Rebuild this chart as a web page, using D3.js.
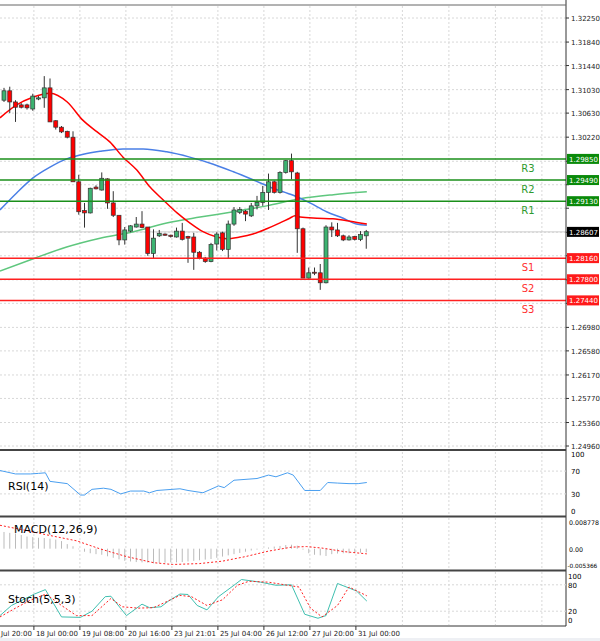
<!DOCTYPE html>
<html><head><meta charset="utf-8">
<script src="https://cdn.jsdelivr.net/npm/d3@7"></script>
<style>body{margin:0;background:#fff}svg{font-family:"DejaVu Sans",sans-serif}</style>
</head><body><svg id="c" width="600" height="641"></svg>
<script>
// OHLC candles [open, high, low, close]
const candles = [
[1.3085,1.3106,1.3082,1.3101],[1.3101,1.3108,1.3063,1.3082],[1.3082,1.3085,1.3048,1.3073],[1.3077,1.3080,1.3071,1.3073],
[1.3077,1.3079,1.3069,1.3072],[1.3070,1.3096,1.3067,1.3092],[1.3087,1.3092,1.3085,1.3089],[1.3089,1.3126,1.3072,1.3106],
[1.3106,1.3122,1.3048,1.3048],[1.3050,1.3051,1.3035,1.3039],[1.3039,1.3041,1.3029,1.3031],[1.3032,1.3033,1.3020,1.3022],
[1.3022,1.3032,1.2946,1.2946],[1.2946,1.2958,1.2890,1.2895],[1.2897,1.2910,1.2868,1.2893],[1.2893,1.2936,1.2892,1.2935],
[1.2937,1.2940,1.2933,1.2934],[1.2932,1.2962,1.2931,1.2952],[1.2951,1.2952,1.2900,1.2910],[1.2910,1.2930,1.2886,1.2889],
[1.2889,1.2889,1.2838,1.2847],[1.2847,1.2869,1.2839,1.2864],[1.2862,1.2872,1.2860,1.2871],[1.2869,1.2886,1.2868,1.2874],
[1.2874,1.2896,1.2867,1.2868],[1.2869,1.2869,1.2820,1.2824],[1.2824,1.2865,1.2816,1.2850],[1.2854,1.2864,1.2852,1.2858],
[1.2857,1.2858,1.2854,1.2855],[1.2855,1.2856,1.2851,1.2853],[1.2852,1.2868,1.2851,1.2862],[1.2862,1.2876,1.2846,1.2848],
[1.2853,1.2854,1.2808,1.2850],[1.2852,1.2859,1.2796,1.2826],[1.2826,1.2828,1.2814,1.2816],[1.2816,1.2818,1.2808,1.2810],
[1.2810,1.2842,1.2809,1.2839],[1.2840,1.2860,1.2829,1.2857],[1.2859,1.2861,1.2828,1.2831],[1.2831,1.2880,1.2815,1.2874],
[1.2874,1.2903,1.2871,1.2898],[1.2894,1.2903,1.2891,1.2899],[1.2896,1.2898,1.2879,1.2891],[1.2888,1.2910,1.2886,1.2905],
[1.2905,1.2922,1.2899,1.2911],[1.2911,1.2939,1.2905,1.2928],[1.2928,1.2960,1.2898,1.2946],[1.2946,1.2948,1.2926,1.2928],
[1.2928,1.2964,1.2926,1.2962],[1.2962,1.2983,1.2960,1.2982],[1.2982,1.2994,1.2950,1.2963],[1.2961,1.2963,1.2825,1.2866],
[1.2866,1.2868,1.2782,1.2782],[1.2782,1.2800,1.2781,1.2791],[1.2792,1.2800,1.2787,1.2791],[1.2791,1.2806,1.2762,1.2774],
[1.2774,1.2872,1.2773,1.2869],[1.2869,1.2877,1.2852,1.2864],[1.2864,1.2876,1.2852,1.2854],[1.2854,1.2856,1.2845,1.2847],
[1.2847,1.2855,1.2846,1.2852],[1.2853,1.2854,1.2846,1.2848],[1.2848,1.2862,1.2845,1.2856],[1.2854,1.2864,1.2832,1.2861]];
// moving averages [candle index, price]
const maRed = [[-0.7,1.3055],[2.2,1.3077],[5,1.3090],[8,1.3097],[11,1.3082],[13.7,1.3051],[16.2,1.3031],[18.4,1.3014],[20.7,1.2988],[23.1,1.2966],[25.4,1.2937],[27.7,1.2915],[30.1,1.2893],[32.3,1.2876],[34.6,1.2861],[37,1.2852],[38.7,1.2849],[41,1.2852],[43.3,1.2857],[45.7,1.2866],[48,1.2876],[49.7,1.2884],[50.6,1.2888],[51.5,1.2886],[54.4,1.2884],[57.2,1.2883],[60.2,1.2879],[63.1,1.2874]];
const maBlue = [[-0.7,1.2898],[2.2,1.2927],[5.1,1.2953],[8,1.2971],[10.9,1.2985],[13.8,1.2993],[16.7,1.2998],[20.7,1.3002],[24.2,1.3002],[28.3,1.2997],[32.3,1.2988],[36.4,1.2976],[39.9,1.2963],[43.4,1.2949],[46.8,1.2935],[50.3,1.2923],[53.2,1.2910],[56.1,1.2895],[59,1.2884],[61.3,1.2874],[63.1,1.2872]];
const maGreen = [[-0.7,1.2794],[5.1,1.2815],[10.9,1.2835],[16.7,1.2850],[22.5,1.2861],[28.3,1.2876],[34.1,1.2886],[39.9,1.2895],[45.7,1.2905],[51.5,1.2917],[57.3,1.2924],[63.1,1.2929]];
const levelNames = ["R3","R2","R1","S1","S2","S3"];
const levelValues = [1.29850,1.29490,1.29130,1.28160,1.27800,1.27440];
const lastPrice = 1.28607;
const priceTicks = [1.32250,1.31840,1.31440,1.31030,1.30630,1.30220,1.29810,1.29410,1.29010,1.28600,1.28200,1.27790,1.27390,1.26980,1.26580,1.26170,1.25770,1.25360,1.24960];
const timeTickIdx = [-2.8,5.2,13.2,21.2,29.2,37.2,45.2,53.2,61.2];
const timeTickLabels = ["17 Jul 20:00","18 Jul 00:00","19 Jul 08:00","20 Jul 16:00","23 Jul 21:01","25 Jul 04:00","26 Jul 12:00","27 Jul 20:00","31 Jul 00:00"];
const rsi = [[-0.7,71],[2,65],[4.6,65],[6,66],[7.2,67],[8,52],[11,48],[13.3,28],[14,28],[15.3,38],[17.3,40],[18.6,38],[20.3,30],[22,35],[24.3,35],[25.3,32],[26.6,36],[30.6,39],[32,36],[34.6,32],[37.3,44],[38.3,41],[40,54],[44,57],[46,63],[47.3,60],[49.3,67],[50.3,63],[52.3,36],[55,36],[56.3,50],[58,49],[60,48],[61.6,48],[63.1,50]];
const macdHist = [0.0055,0.0052,0.005,0.0045,0.004,0.0038,0.0036,0.0035,0.0033,0.003,0.0025,0.0015,0.0008,-0.0002,-0.001,-0.0015,-0.0018,-0.002,-0.0025,-0.003,-0.0035,-0.004,-0.0042,-0.0044,-0.0045,-0.0046,-0.0048,-0.0047,-0.0046,-0.0045,-0.0045,-0.0044,-0.0042,-0.004,-0.0038,-0.0036,-0.0034,-0.003,-0.0026,-0.0022,-0.0018,-0.0014,-0.001,-0.0006,-0.0003,0.0001,0.0004,0.0007,0.0009,0.0012,0.0013,0.001,-0.0003,-0.0015,-0.002,-0.0022,-0.0024,-0.0018,-0.0016,-0.0015,-0.0015,-0.0014,-0.0013,-0.0012];
const macdSignal = [[-0.7,0.0077],[3.3,0.0062],[7.3,0.0046],[12.6,0.0026],[16.6,0],[21.3,-0.0026],[26,-0.0046],[29.3,-0.0052],[34,-0.0049],[38,-0.0041],[42,-0.0026],[46,-0.0008],[50,0.0005],[52.6,0.0007],[55.3,0.0002],[59.3,-0.001],[63.1,-0.0017]];
const stochMain = [[-0.7,10],[1.3,33],[3.3,46],[5.3,59],[7.2,69],[10,7],[13.3,6],[15.3,20],[17.6,53],[18.6,54],[21.3,10],[24,36],[25.3,28],[27.3,30],[28.6,43],[30.6,59],[32,58],[33.6,33],[35.3,23],[37.3,53],[40,79],[41.3,92],[44.6,86],[47.3,79],[50,80],[52.3,13],[54.6,4],[56,10],[58,83],[61.3,66],[63.1,43]];
const stochSignal = [[-0.7,7],[2,27],[4.6,45],[7.3,59],[10,33],[12.6,10],[15.3,10],[18.6,49],[20.6,30],[23.3,27],[26,28],[28,40],[30.6,56],[32.6,53],[35.3,33],[38,46],[40.6,79],[42.6,88],[46,86],[49.3,79],[51.3,75],[53.3,27],[55.3,7],[58,33],[60,75],[63.1,55]];

const svg = d3.select("#c");
const R = 566;
const x = d3.scaleLinear().domain([0,63]).range([4,366.25]);
const y = d3.scaleLinear().domain([1.2496,1.3225]).range([446,18]);
const grid = "#d8d8d8";
const defs = svg.append("defs");
defs.append("clipPath").attr("id","cm").append("rect").attr("x",0).attr("y",6).attr("width",R).attr("height",443);

const panels = [[6,449],[452,515],[518,568],[572,625]];
const vx = timeTickIdx.map(i=>x(i));
panels.forEach(([t,b])=>{
  svg.selectAll(null).data(vx.filter(v=>v>0)).enter().append("line")
    .attr("x1",d=>d).attr("x2",d=>d).attr("y1",t).attr("y2",b)
    .attr("stroke",grid).attr("stroke-dasharray","2,2");
  d3.range(vx[vx.length-1]+46.5,R,46.5).forEach(v=>svg.append("line").attr("x1",v).attr("x2",v).attr("y1",t).attr("y2",b).attr("stroke",grid).attr("stroke-dasharray","2,2"));
});
svg.selectAll(null).data(priceTicks).enter().append("line")
  .attr("x1",0).attr("x2",R).attr("y1",d=>y(d)).attr("y2",d=>y(d))
  .attr("stroke",grid).attr("stroke-dasharray","2,2");

const g = svg.append("g").attr("clip-path","url(#cm)");
g.append("line").attr("x1",0).attr("x2",R).attr("y1",y(lastPrice)).attr("y2",y(lastPrice)).attr("stroke","#ccc");
const ln = d3.line().x(d=>x(d[0])).y(d=>y(d[1])).curve(d3.curveMonotoneX);
g.append("path").attr("d",ln(maGreen)).attr("fill","none").attr("stroke","#5fc77e").attr("stroke-width",1.5);
g.append("path").attr("d",ln(maBlue)).attr("fill","none").attr("stroke","#4a7fe6").attr("stroke-width",1.5);
g.append("path").attr("d",ln(maRed)).attr("fill","none").attr("stroke","#ff0000").attr("stroke-width",1.5);
const cg = g.selectAll(null).data(candles).enter().append("g");
cg.append("line").attr("x1",(d,i)=>x(i)).attr("x2",(d,i)=>x(i)).attr("y1",d=>y(d[1])).attr("y2",d=>y(d[2])).attr("stroke","#333");
cg.append("rect").attr("x",(d,i)=>x(i)-2).attr("width",4)
  .attr("y",d=>y(Math.max(d[0],d[3]))).attr("height",d=>Math.max(1,Math.abs(y(d[0])-y(d[3]))))
  .attr("fill",d=>d[3]>=d[0]?"#3cb371":"#ff0000").attr("stroke","#333").attr("stroke-width",0.7);
levelValues.forEach((v,i)=>{
  const c = i<3?"#1a8f1a":"#ff2020";
  g.append("line").attr("x1",0).attr("x2",R).attr("y1",y(v)).attr("y2",y(v)).attr("stroke",c).attr("stroke-width",1.5);
  svg.append("text").attr("x",528).attr("y",y(v)+13).attr("text-anchor","middle").attr("font-size",10)
    .attr("fill",i<3?"#2e9a2e":"#ff3030").text(levelNames[i]);
});
svg.append("line").attr("x1",R).attr("x2",R).attr("y1",0).attr("y2",626).attr("stroke","#333");
svg.append("line").attr("x1",0).attr("x2",R).attr("y1",626).attr("y2",626).attr("stroke","#333");
[450,516.5,570.5].forEach(v=>svg.append("line").attr("x1",0).attr("x2",R).attr("y1",v).attr("y2",v).attr("stroke","#444").attr("stroke-width",2));
svg.append("line").attr("x1",0).attr("x2",R).attr("y1",5).attr("y2",5).attr("stroke","#666");
const boxVals = levelValues.concat([lastPrice]);
priceTicks.forEach(v=>{
  svg.append("line").attr("x1",R).attr("x2",R+3).attr("y1",y(v)).attr("y2",y(v)).attr("stroke","#333");
  if (boxVals.some(b=>Math.abs(y(b)-y(v))<9)) return;
  svg.append("text").attr("x",R+5).attr("y",y(v)+3).attr("font-size",7).attr("fill","#222").text(v.toFixed(5));
});
function box(v,col){
  svg.append("rect").attr("x",R+1).attr("y",y(v)-5).attr("width",32).attr("height",10).attr("fill",col);
  svg.append("text").attr("x",R+3).attr("y",y(v)+3).attr("font-size",7).attr("fill","#fff").text(v.toFixed(5));
}
levelValues.forEach((v,i)=>box(v,i<3?"#0a8a0a":"#ff1a1a"));
box(lastPrice,"#000");

const yr = d3.scaleLinear().domain([0,100]).range([511,454]);
[70,30].forEach(v=>svg.append("line").attr("x1",0).attr("x2",R).attr("y1",yr(v)).attr("y2",yr(v)).attr("stroke",grid).attr("stroke-dasharray","2,2"));
[100,70,30,0].forEach(v=>svg.append("text").attr("x",R+5).attr("y",yr(v)+3).attr("font-size",7).text(v));
svg.append("path").attr("d",d3.line().x(d=>x(d[0])).y(d=>yr(d[1]))(rsi)).attr("fill","none").attr("stroke","#4a9ff0").attr("stroke-width",1);
svg.append("text").attr("x",8).attr("y",490).attr("font-size",11).text("RSI(14)");

const ym = d3.scaleLinear().domain([-0.005366,0.008778]).range([565,522]);
svg.selectAll(null).data(macdHist).enter().append("line")
  .attr("x1",(d,i)=>x(i)).attr("x2",(d,i)=>x(i)).attr("y1",ym(0)).attr("y2",d=>ym(d)).attr("stroke","#bbb");
svg.append("path").attr("d",d3.line().x(d=>x(d[0])).y(d=>ym(d[1]))(macdSignal)).attr("fill","none").attr("stroke","#ff2020").attr("stroke-dasharray","2,2");
[0.008778,0,-0.005366].forEach(v=>svg.append("text").attr("x",v<0?R+1.5:R+3).attr("y",ym(v)+3).attr("font-size",v<0?5.8:6.3).text(v===0?"0.00":String(v)));
svg.append("text").attr("x",14).attr("y",533).attr("font-size",11).text("MACD(12,26,9)");

const ys = d3.scaleLinear().domain([0,100]).range([620,576]);
[80,20].forEach(v=>svg.append("line").attr("x1",0).attr("x2",R).attr("y1",ys(v)).attr("y2",ys(v)).attr("stroke",grid).attr("stroke-dasharray","2,2"));
[100,80,20,0].forEach(v=>svg.append("text").attr("x",R+2).attr("y",ys(v)+3).attr("font-size",7).text(v));
svg.append("path").attr("d",d3.line().x(d=>x(d[0])).y(d=>ys(d[1]))(stochMain)).attr("fill","none").attr("stroke","#40c0b0").attr("stroke-width",1);
svg.append("path").attr("d",d3.line().x(d=>x(d[0])).y(d=>ys(d[1]))(stochSignal)).attr("fill","none").attr("stroke","#ff2020").attr("stroke-dasharray","2,2");
svg.append("text").attr("x",8).attr("y",603).attr("font-size",11).text("Stoch(5,5,3)");

timeTickIdx.forEach((t,i)=>{
  const px = x(t);
  svg.append("line").attr("x1",px).attr("x2",px).attr("y1",626).attr("y2",630).attr("stroke","#333");
  svg.append("text").attr("x",Math.max(px+2,1)).attr("y",636).attr("font-size",7).attr("fill","#222")
    .text(px<0?timeTickLabels[i].slice(3):timeTickLabels[i]);
});
svg.append("rect").attr("x",0).attr("y",638).attr("width",600).attr("height",3).attr("fill","#eef0f4");
</script></body></html>
